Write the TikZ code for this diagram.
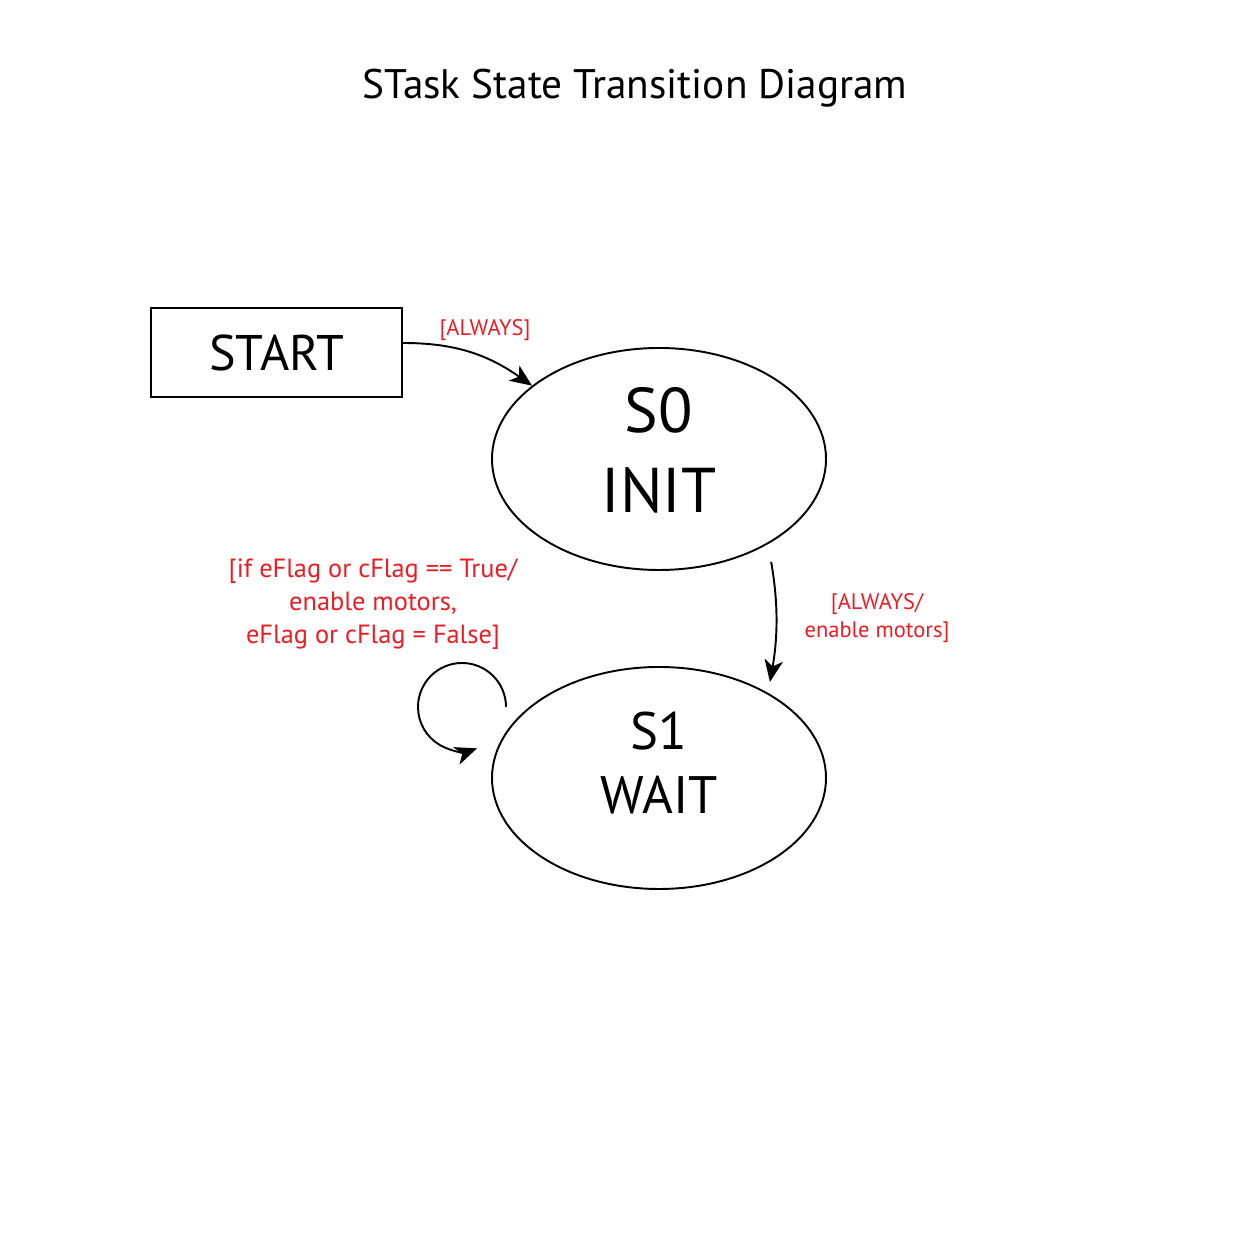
\documentclass[tikz,border=0pt]{standalone}
\usepackage{fontspec}
\setmainfont{PT Sans}
\usetikzlibrary{arrows.meta,shapes.geometric,positioning}
\definecolor{cond}{RGB}{237,28,36}
\tikzset{
  state/.style={ellipse,draw=black,line width=1.1pt,minimum width=6.68cm,minimum height=4.44cm,inner sep=0pt,align=center},
  cond/.style={text=cond,align=center},
  arr/.style={line width=1.1pt,-{Stealth[length=12.5pt,width=10.5pt,inset=3.5pt]}}
}
\begin{document}
\begin{tikzpicture}
\useasboundingbox (0,0) rectangle (25,25);
\node (title) at (12.7,23.24) {\fontsize{23.5}{28}\selectfont STask State Transition Diagram};
\node[draw=black,line width=1.2pt,minimum width=5.02cm,minimum height=1.78cm,inner sep=0pt] (start) at (5.53,17.95) {\fontsize{28.5}{34}\selectfont START};
\node[state,font=\fontsize{36}{46}\selectfont,text depth=0.36cm] (S0) at (13.18,15.82) {S0\\INIT};
\node[state,font=\fontsize{30}{36.4}\selectfont,text depth=0.62cm] (S1) at (13.18,9.44) {S1\\WAIT};
% transitions
\draw[arr] ([yshift=0.19cm]start.east) to[out=0,in=145] (S0.150);
\node[cond,font=\fontsize{12.8}{16}\selectfont] (l0) at (9.7,18.4) {[ALWAYS]};
\draw[arr,shorten <=0.36cm,shorten >=0.22cm] (S0.-38) to[out=-80,in=80] (S1.38);
\node[cond,font=\fontsize{12.8}{16}\selectfont] (l1) at (17.54,12.63) {[ALWAYS/\\enable motors]};
\coordinate (loopA) at (10.12,10.86);
\draw[arr] (loopA) arc[start angle=0,end angle=290,radius=0.88cm];
\node[cond,font=\fontsize{15}{18.8}\selectfont] (l2) at (7.46,12.92) {[if eFlag or cFlag == True/\\enable motors,\\eFlag or cFlag = False]};
\end{tikzpicture}
\end{document}
